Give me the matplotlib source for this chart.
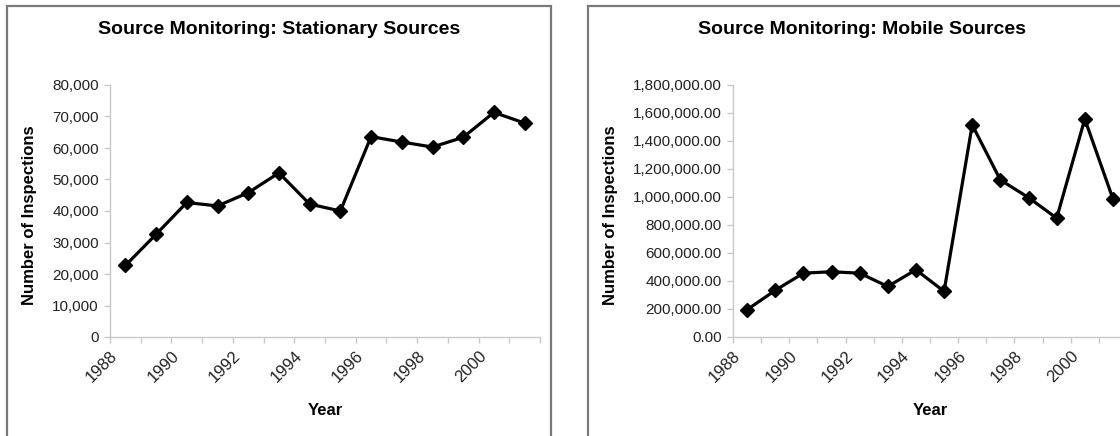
import matplotlib
matplotlib.use("Agg")
import matplotlib.pyplot as plt
from matplotlib.patches import Rectangle
from matplotlib.ticker import FuncFormatter, FixedLocator

plt.rcParams['font.family'] = ['Liberation Sans', 'DejaVu Sans']

years = [1988, 1989, 1990, 1991, 1992, 1993, 1994, 1995, 1996, 1997, 1998, 1999, 2000, 2001]
stationary = [22700, 32600, 42700, 41600, 45800, 52100, 42200, 40000, 63600, 61900, 60300, 63400, 71300, 67900]
mobile = [195000, 333000, 456000, 466000, 456000, 361000, 480000, 326000, 1515000, 1122000, 996000, 849000, 1557000, 987000]
left_title = "Source Monitoring: Stationary Sources"
right_title = "Source Monitoring: Mobile Sources"
y_label = "Number of Inspections"
x_label = "Year"

W, H = 1120, 436
fig = plt.figure(figsize=(W / 100, H / 100), dpi=100)

def fx(px):
    return px / W

def fy(py):
    return 1 - py / H

# panel borders
for x0, x1 in [(7, 551), (588, 1140)]:
    fig.patches.append(Rectangle((fx(x0), fy(445)), fx(x1 - x0), (445 - 6) / H,
                                 transform=fig.transFigure, fill=False,
                                 edgecolor='#7a7a7a', linewidth=1.6))

axis_col = '#c8c8c8'

def style(ax, values, ymax, ystep, fmt):
    n = len(years)
    pos = list(range(n))
    ax.plot(pos, values, color='black', linewidth=2.3, marker='D', markersize=7.5,
            markerfacecolor='black', markeredgecolor='black', clip_on=False)
    ax.set_xlim(-0.5, n - 0.5)
    ax.set_ylim(0, ymax)
    ax.yaxis.set_major_locator(FixedLocator([i * ystep for i in range(int(round(ymax / ystep)) + 1)]))
    ax.yaxis.set_major_formatter(FuncFormatter(fmt))
    tick_pos = [k - 0.5 for k in range(n + 1)]
    tick_lab = [str(years[k]) if (k < n and k % 2 == 0) else '' for k in range(n + 1)]
    ax.set_xticks(tick_pos, tick_lab)
    ax.tick_params(axis='x', length=4, color=axis_col, width=1, pad=4,
                   labelsize=12, labelcolor='#222222')
    for lab in ax.get_xticklabels():
        lab.set_rotation(45)
        lab.set_ha('right')
        lab.set_va('top')
        lab.set_rotation_mode('anchor')
    ax.tick_params(axis='y', length=4, color=axis_col, width=1, labelsize=11, labelcolor='#222222', pad=4)
    for s in ['top', 'right']:
        ax.spines[s].set_visible(False)
    for s in ['left', 'bottom']:
        ax.spines[s].set_color(axis_col)
        ax.spines[s].set_linewidth(1)

axL = fig.add_axes([fx(110), fy(337), fx(540 - 110), (337 - 85) / H])
style(axL, stationary, 80000, 10000, lambda v, p: f"{v:,.0f}")
axR = fig.add_axes([fx(733), fy(337), fx(1127 - 733), (337 - 85) / H])
style(axR, mobile, 1800000, 200000, lambda v, p: f"{v:,.2f}")

fig.text(fx(279), fy(30), left_title, ha='center', va='center', fontsize=14, fontweight='bold')
fig.text(fx(862), fy(30), right_title, ha='center', va='center', fontsize=14, fontweight='bold')
fig.text(fx(325), fy(410), x_label, ha='center', va='center', fontsize=12, fontweight='bold')
fig.text(fx(930), fy(410), x_label, ha='center', va='center', fontsize=12, fontweight='bold')
fig.text(fx(30), fy(215), y_label, ha='center', va='center', rotation=90, fontsize=12, fontweight='bold')
fig.text(fx(610), fy(215), y_label, ha='center', va='center', rotation=90, fontsize=12, fontweight='bold')

fig.savefig("out.png", dpi=100)
